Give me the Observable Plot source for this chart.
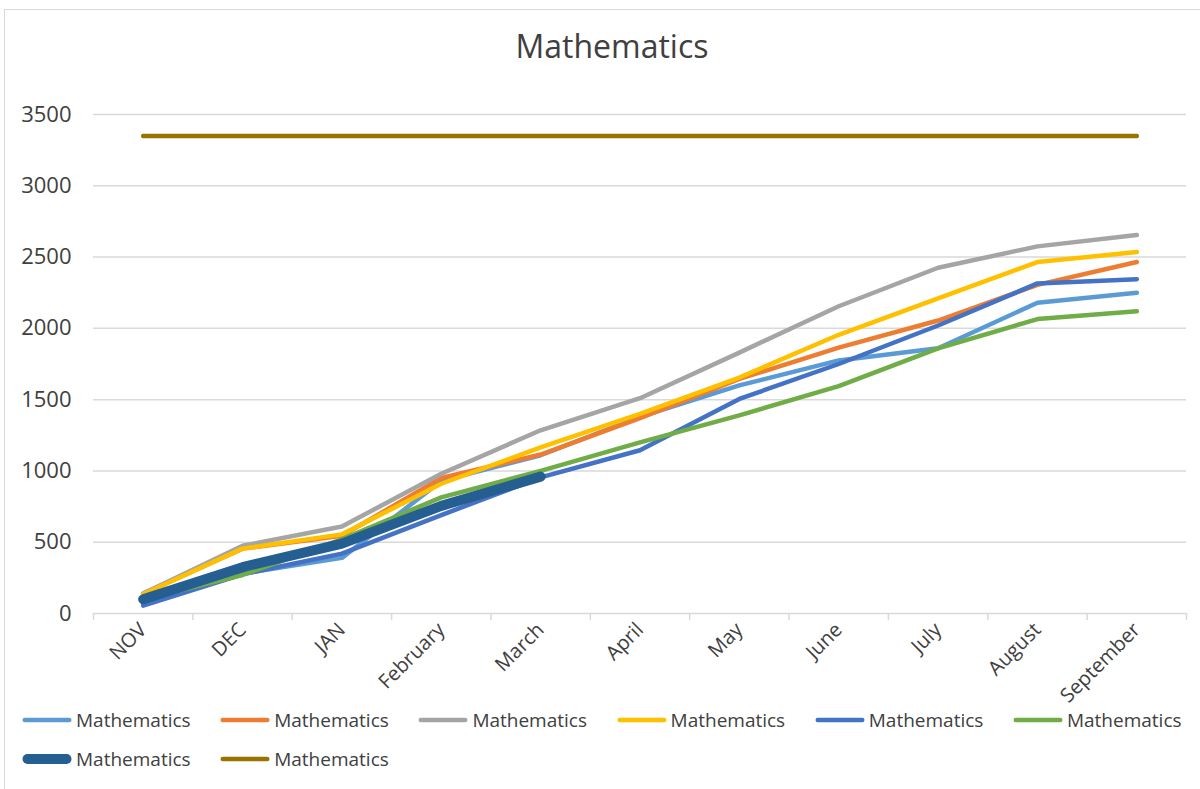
<!DOCTYPE html>
<html><head><meta charset="utf-8">
<script src="https://cdn.jsdelivr.net/npm/d3@7"></script>
<script src="https://cdn.jsdelivr.net/npm/@observablehq/plot@0.6"></script>
<style>
html,body{margin:0;padding:0;background:#fff;overflow:hidden;width:1200px;height:789px;}
body{font-family:"Open Sans",sans-serif;color:#505050;position:relative;}
#frame{position:absolute;left:4px;top:9px;width:1240px;height:820px;border:1.5px solid #d9d9d9;box-sizing:border-box;}
#title{position:absolute;left:0;top:30px;width:1224px;text-align:center;font-size:32px;line-height:1;color:#404040;}
#chart{position:absolute;left:0;top:80px;}
#chart svg{overflow:visible;}
.lrow{position:absolute;left:22px;height:20px;display:flex;}
.litem{width:198.2px;display:flex;align-items:center;}
.litem span{font-size:19px;line-height:1;margin-left:4px;color:#404040;}
</style></head>
<body>
<div id="frame"></div>
<div id="title">Mathematics</div>
<div id="chart"></div>
<div id="legend"></div>
<script>
const months = ["NOV","DEC","JAN","February","March","April","May","June","July","August","September"];
const yTicks = [0,500,1000,1500,2000,2500,3000,3500];
const seriesNames = ["Mathematics","Mathematics","Mathematics","Mathematics","Mathematics","Mathematics","Mathematics","Mathematics"];
const s1 = [70, 280, 390, 930, 1110, 1380, 1600, 1775, 1860, 2180, 2250];
const s2 = [140, 455, 545, 950, 1115, 1370, 1645, 1865, 2055, 2305, 2465];
const s3 = [140, 475, 610, 980, 1285, 1510, 1830, 2155, 2425, 2575, 2655];
const s4 = [135, 455, 555, 910, 1165, 1400, 1655, 1955, 2210, 2465, 2535];
const s5 = [55, 275, 420, 690, 955, 1145, 1505, 1750, 2020, 2315, 2345];
const s6 = [100, 270, 520, 815, 1000, 1200, 1390, 1595, 1860, 2065, 2120];
const s7 = [100, 325, 490, 755, 960];
const s8 = [3350, 3350, 3350, 3350, 3350, 3350, 3350, 3350, 3350, 3350, 3350];
const colors = ["#5B9BD5","#ED7D31","#A5A5A5","#FFC000","#4472C4","#70AD47","#255E91","#997300"];
const widths = [4.5,4.5,4.5,4.5,4.5,4.5,10,4.5];
const allSeries = [s1,s2,s3,s4,s5,s6,s7,s8];

const boundaries = months.map((_, i) => i - 0.5).concat([months.length - 0.5]);

const chart = Plot.plot({
  width: 1200, height: 620,
  marginLeft: 93, marginRight: 14, marginTop: 34, marginBottom: 87,
  style: {fontFamily: "'Open Sans', sans-serif", fontSize: "20px", color: "#505050", background: "transparent"},
  x: {type: "linear", domain: [-0.5, months.length - 0.5], axis: null},
  y: {domain: [0, 3500], axis: null},
  marks: [
    Plot.ruleY(yTicks, {stroke: "#d9d9d9", strokeWidth: 1.5}),
    Plot.axisY({ticks: yTicks, tickSize: 0, tickPadding: 22, tickFormat: d => String(d), fontSize: 22, fill: "#404040", label: null}),
    Plot.axisX({ticks: boundaries, tickSize: 7, tickFormat: () => "", stroke: "#d9d9d9", strokeWidth: 1.5, label: null}),
    Plot.axisX({ticks: months.map((_, i) => i), tickSize: 0, tickPadding: 13, tickRotate: -45, tickFormat: i => months[i], fontSize: 20, fill: "#404040", label: null}),
    ...allSeries.map((s, k) => Plot.line(s, {x: (d, i) => i, y: d => d, stroke: colors[k], strokeWidth: widths[k], strokeLinecap: "round", strokeLinejoin: "round"}))
  ]
});
document.getElementById("chart").appendChild(chart);

// legend
const legend = document.getElementById("legend");
const rowsY = [710, 749];
const perRow = 6;
seriesNames.forEach((name, k) => {
  const r = Math.floor(k / perRow);
  let row = legend.querySelector(".lrow.r" + r);
  if (!row) {
    row = document.createElement("div");
    row.className = "lrow r" + r;
    row.style.top = rowsY[r] + "px";
    legend.appendChild(row);
  }
  const item = document.createElement("div");
  item.className = "litem";
  const sw = widths[k];
  item.innerHTML = `<svg width="50" height="14"><line x1="${sw/2+0.5}" y1="7" x2="${49.5-sw/2}" y2="7" stroke="${colors[k]}" stroke-width="${sw}" stroke-linecap="round"/></svg><span>${name}</span>`;
  row.appendChild(item);
});
</script>
</body></html>
